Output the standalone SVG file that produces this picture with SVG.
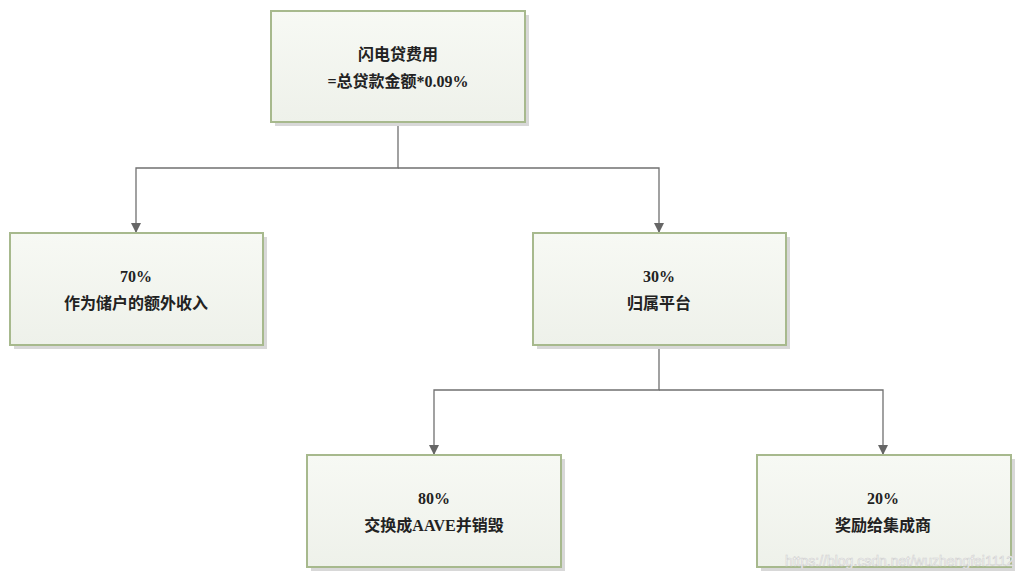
<svg xmlns="http://www.w3.org/2000/svg" width="1024" height="578" viewBox="0 0 1024 578">
<style>
.box{fill:url(#g);stroke:#a7b98d;stroke-width:2}
.sh{fill:#d8d8d8}
.t{font-family:"Liberation Serif","Noto Sans CJK SC",serif;font-size:16px;font-weight:bold;fill:#222;text-anchor:middle}
.c{fill:none;stroke:#707070;stroke-width:1.3}
</style>
<defs>
<linearGradient id="g" x1="0" y1="0" x2="0" y2="1"><stop offset="0" stop-color="#f7f9f4"/><stop offset="1" stop-color="#eef1ea"/></linearGradient>
<marker id="a" markerWidth="10" markerHeight="10" refX="9" refY="5" orient="auto" markerUnits="userSpaceOnUse"><path d="M0,0L10,5L0,10z" fill="#666"/></marker>
</defs>
<rect width="1024" height="578" fill="#fff"/>
<g id="connectors">
<path class="c" d="M398,122V168H136V232" marker-end="url(#a)"/>
<path class="c" d="M398,168H659V232" marker-end="url(#a)"/>
<path class="c" d="M659,345V390H434V454" marker-end="url(#a)"/>
<path class="c" d="M659,390H883V454" marker-end="url(#a)"/>
</g>
<g id="n1"><rect class="sh" x="275" y="15" width="254" height="111"/><rect class="box" x="271" y="11" width="254" height="111"/><text class="t" x="398" y="60">闪电贷费用</text><text class="t" x="398" y="87">=总贷款金额*0.09%</text></g>
<g id="n2"><rect class="sh" x="14" y="237" width="253" height="112"/><rect class="box" x="10" y="233" width="253" height="112"/><text class="t" x="136" y="282">70%</text><text class="t" x="136" y="309">作为储户的额外收入</text></g>
<g id="n3"><rect class="sh" x="537" y="237" width="253" height="112"/><rect class="box" x="533" y="233" width="253" height="112"/><text class="t" x="659" y="282">30%</text><text class="t" x="659" y="309">归属平台</text></g>
<g id="n4"><rect class="sh" x="311" y="459" width="254" height="112"/><rect class="box" x="307" y="455" width="254" height="112"/><text class="t" x="434" y="504">80%</text><text class="t" x="434" y="531">交换成AAVE并销毁</text></g>
<g id="n5"><rect class="sh" x="761" y="459" width="254" height="112"/><rect class="box" x="757" y="455" width="254" height="112"/><text class="t" x="883" y="504">20%</text><text class="t" x="883" y="531">奖励给集成商</text></g>
<text x="1014" y="566" font-family="Liberation Sans,sans-serif" font-size="14" fill="#ffffff" stroke="#d0d0d0" stroke-width="0.6" text-anchor="end">https://blog.csdn.net/wuzhengfei1112</text>
</svg>
